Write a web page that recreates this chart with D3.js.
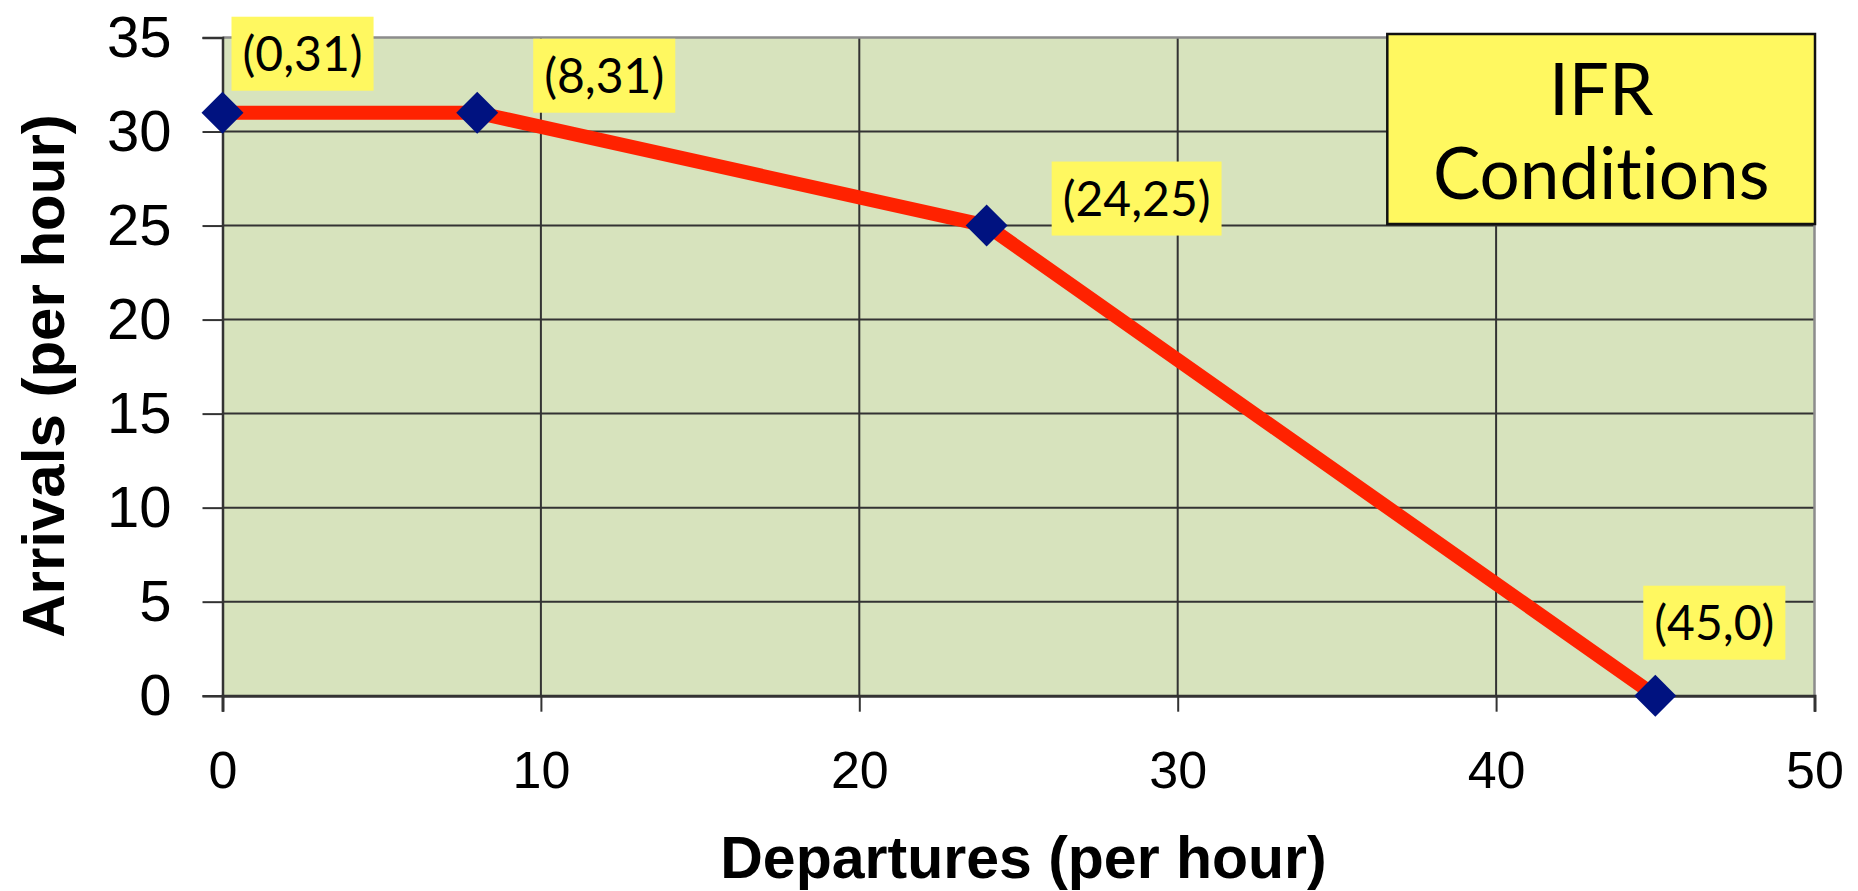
<!DOCTYPE html>
<html>
<head>
<meta charset="utf-8">
<script src="https://cdn.jsdelivr.net/npm/d3@7"></script>
<style>
  html, body { margin: 0; padding: 0; background: #ffffff; }
  svg { display: block; }
  text { font-variant-ligatures: none; }
</style>
</head>
<body>
<svg id="chart" width="1858" height="891"></svg>
<script>
// Capacity envelope: departures vs arrivals per hour
const departures = [0, 8, 24, 45];
const arrivals   = [31, 31, 25, 0];
const pointLabels = ["(0,31)", "(8,31)", "(24,25)", "(45,0)"];

const xTicks = [0, 10, 20, 30, 40, 50];
const yTicks = [0, 5, 10, 15, 20, 25, 30, 35];

const xTitle = "Departures (per hour)";
const yTitle = "Arrivals (per hour)";
const boxLines = ["IFR", "Conditions"];

// ---- layout ----
const W = 1858, H = 891;
const plot = { left: 222.5, right: 1814.5, top: 37.5, bottom: 695.7 };

const svg = d3.select("#chart");

const x = d3.scaleLinear().domain([0, 50]).range([plot.left, plot.right]);
const y = d3.scaleLinear().domain([0, 35]).range([plot.bottom, plot.top]);

const points = departures.map((d, i) => ({ x: d, y: arrivals[i], label: pointLabels[i] }));

// plot background
svg.append("rect")
  .attr("x", plot.left).attr("y", plot.top)
  .attr("width", plot.right - plot.left)
  .attr("height", plot.bottom - plot.top)
  .attr("fill", "#d7e3bd");

// grid lines
const grid = svg.append("g");
grid.selectAll("line.h")
  .data(yTicks.filter(v => v > 0 && v < 35))
  .join("line")
  .attr("x1", plot.left).attr("x2", plot.right)
  .attr("y1", d => y(d)).attr("y2", d => y(d))
  .attr("stroke", "#333333").attr("stroke-width", 2);
grid.selectAll("line.v")
  .data(xTicks.filter(v => v > 0 && v < 50))
  .join("line")
  .attr("y1", plot.top).attr("y2", plot.bottom)
  .attr("x1", d => x(d)).attr("x2", d => x(d))
  .attr("stroke", "#333333").attr("stroke-width", 2);

// top and right frame
svg.append("path")
  .attr("d", `M${plot.left},${plot.top}H${plot.right}V${plot.bottom}`)
  .attr("fill", "none").attr("stroke", "#8c8c8c").attr("stroke-width", 2.5);

// y axis
const yAxis = svg.append("g")
  .attr("transform", `translate(${plot.left},0)`)
  .call(d3.axisLeft(y).tickValues(yTicks).tickSize(20).tickPadding(31).tickFormat(d3.format("d")));
yAxis.select(".domain").attr("stroke", "#333333").attr("stroke-width", 2.5);
yAxis.selectAll(".tick line").attr("stroke", "#333333").attr("stroke-width", 2);
yAxis.selectAll(".tick text")
  .attr("font-family", "'Liberation Sans', Arial, sans-serif")
  .attr("font-size", 58)
  .attr("fill", "#000")
  .attr("dy", null)
  .attr("y", 18.5);

// x axis
const xAxis = svg.append("g")
  .attr("transform", `translate(0,${plot.bottom})`)
  .call(d3.axisBottom(x).tickValues(xTicks).tickSize(16).tickFormat(d3.format("d")));
xAxis.select(".domain").attr("stroke", "#333333").attr("stroke-width", 3);
xAxis.selectAll(".tick line").attr("stroke", "#333333").attr("stroke-width", 2);
xAxis.selectAll(".tick text")
  .attr("font-family", "'Liberation Sans', Arial, sans-serif")
  .attr("font-size", 52)
  .attr("fill", "#000")
  .attr("dy", null)
  .attr("y", 92);

// axis titles
svg.append("text")
  .attr("x", (plot.left + plot.right) / 2 + 5)
  .attr("y", 878)
  .attr("text-anchor", "middle")
  .attr("font-family", "'Liberation Sans', Arial, sans-serif")
  .attr("font-weight", "bold")
  .attr("font-size", 59)
  .text(xTitle);

svg.append("text")
  .attr("transform", "translate(64,376) rotate(-90)")
  .attr("text-anchor", "middle")
  .attr("font-family", "'Liberation Sans', Arial, sans-serif")
  .attr("font-weight", "bold")
  .attr("font-size", 60)
  .text(yTitle);

// series line
svg.append("path")
  .datum(points)
  .attr("d", d3.line().x(d => x(d.x)).y(d => y(d.y)))
  .attr("fill", "none")
  .attr("stroke", "#ff2200")
  .attr("stroke-width", 14)
  .attr("stroke-linejoin", "round");

// diamond markers
svg.selectAll("path.marker")
  .data(points)
  .join("path")
  .attr("class", "marker")
  .attr("d", d3.symbol(d3.symbolSquare, 880)())
  .attr("transform", d => `translate(${x(d.x)},${y(d.y)}) rotate(45)`)
  .attr("fill", "#001280");

// point labels: box offset (left, bottom) from each marker in pixels
const labelOffsets = [[9, -22], [56, 0], [65, 10], [-12, -36]];
const labelFont = "Lato, 'Open Sans', sans-serif";
const labels = svg.selectAll("g.lbl")
  .data(points)
  .join("g")
  .attr("class", "lbl");
labels.each(function (d, i) {
  const g = d3.select(this);
  const left = x(d.x) + labelOffsets[i][0];
  const bottom = y(d.y) + labelOffsets[i][1];
  const t = g.append("text")
    .attr("font-family", labelFont)
    .attr("font-size", 48)
    .attr("fill", "#000")
    .attr("x", left + 11)
    .attr("y", bottom - 20)
    .text(d.label);
  const w = t.node().getComputedTextLength();
  g.insert("rect", "text")
    .attr("x", left).attr("y", bottom - 74)
    .attr("width", w + 22).attr("height", 74)
    .attr("fill", "#fff860");
});

// condition box
const box = { left: 1387.3, right: 1815, top: 34, bottom: 224 };
svg.append("rect")
  .attr("x", box.left).attr("y", box.top)
  .attr("width", box.right - box.left).attr("height", box.bottom - box.top)
  .attr("fill", "#fff860")
  .attr("stroke", "#111111")
  .attr("stroke-width", 2.5);
svg.selectAll("text.box")
  .data(boxLines)
  .join("text")
  .attr("class", "box")
  .attr("x", (box.left + box.right) / 2)
  .attr("y", (d, i) => [114.5, 199][i])
  .attr("text-anchor", "middle")
  .attr("font-family", labelFont)
  .attr("font-size", 71)
  .attr("fill", "#000")
  .text(d => d);
</script>
</body>
</html>
